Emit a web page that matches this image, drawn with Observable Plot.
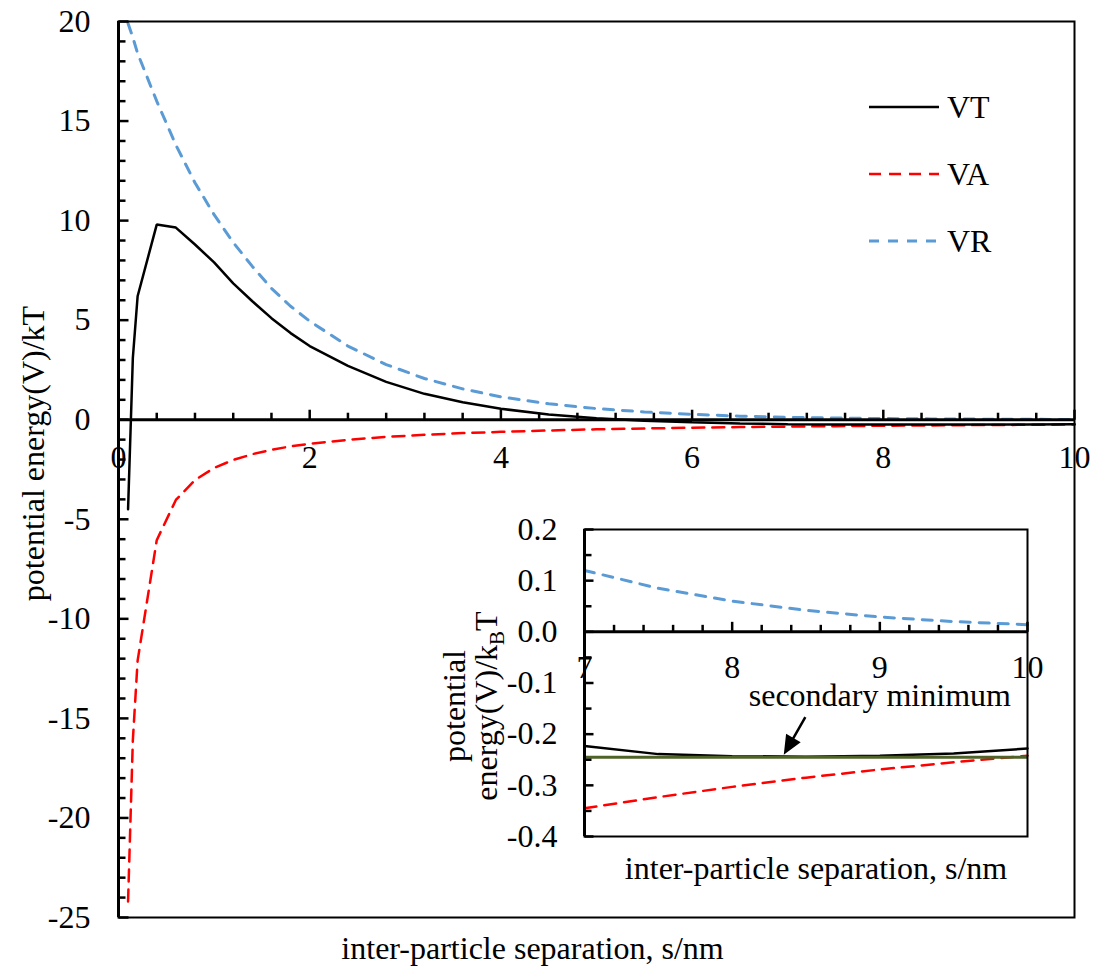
<!DOCTYPE html>
<html><head><meta charset="utf-8">
<script src="https://cdn.jsdelivr.net/npm/d3@7"></script>
<script src="https://cdn.jsdelivr.net/npm/@observablehq/plot@0.6"></script>
<style>
body{margin:0;background:#fff;}
#wrap{position:relative;width:1100px;height:969px;overflow:hidden;background:#fff;}
#wrap svg{position:absolute;}
#wrap text{font-family:"Liberation Serif","Times New Roman",serif;}
</style></head><body><div id="wrap"></div>
<script>
// ---------- data ----------
const separations = [0.1, 0.15, 0.2, 0.4, 0.6, 0.8, 1.0, 1.2, 1.4, 1.6, 1.8, 2.0, 2.4, 2.8, 3.2, 3.6, 4.0, 4.5, 5.0, 5.5, 6.0, 6.5, 7.0, 7.5, 8.0, 8.5, 9.0, 9.5, 10.0];
const vtValues = [-4.5, 3.1, 6.2, 9.8, 9.65, 8.8, 7.9, 6.85, 5.95, 5.1, 4.35, 3.7, 2.7, 1.9, 1.3, 0.88, 0.55, 0.26, 0.08, -0.05, -0.13, -0.19, -0.223, -0.239, -0.243, -0.244, -0.242, -0.238, -0.228];
const vaValues = [-24.2, -16.1, -12.1, -6.05, -4.03, -3.03, -2.42, -2.02, -1.73, -1.51, -1.34, -1.21, -1.01, -0.86, -0.76, -0.67, -0.61, -0.54, -0.48, -0.44, -0.40, -0.37, -0.345, -0.323, -0.303, -0.285, -0.269, -0.255, -0.242];
const vrValues = [19.9, 19.2, 18.4, 16.0, 13.8, 11.9, 10.3, 8.9, 7.7, 6.6, 5.7, 4.95, 3.7, 2.77, 2.07, 1.55, 1.15, 0.80, 0.56, 0.39, 0.27, 0.18, 0.120, 0.085, 0.060, 0.042, 0.029, 0.020, 0.014];
const seriesNames = ["VT", "VA", "VR"];

const xTickLabels = [0, 2, 4, 6, 8, 10];
const xMinorTicks = [0.4, 0.8, 1.2, 1.6, 2.4, 2.8, 3.2, 3.6, 4.4, 4.8, 5.2, 5.6, 6.4, 6.8, 7.2, 7.6, 8.4, 8.8, 9.2, 9.6];
const yTickLabels = [20, 15, 10, 5, 0, -5, -10, -15, -20, -25];
const yMinorTicks = d3.range(-25, 21, 1).filter(v => v % 5 !== 0);

const insetXTickLabels = [7, 8, 9, 10];
const insetXMinorTicks = [7.2, 7.4, 7.6, 7.8, 8.2, 8.4, 8.6, 8.8, 9.2, 9.4, 9.6, 9.8];
const insetYTickLabels = [0.2, 0.1, 0.0, -0.1, -0.2, -0.3, -0.4];
const insetYMinorTicks = [0.15, 0.05, -0.05, -0.15, -0.25, -0.35];
const secondaryMinimum = [-0.245];
const annotationText = [{label: "secondary minimum", s: 9.0, v: -0.124}];
const annotationArrowTip = [{s: 8.36, v: -0.235}];

const xTitle = "inter-particle separation, s/nm";
const yTitle = "potential energy(V)/kT";
const insetYTitle = "potential\nenergy(V)/kBT";

// ---------- styles ----------
const FONT = "Liberation Serif";
const FS = 32;
const BLUE = "#5B9BD5", RED = "#FF0000", GREEN = "#4F6228";
const colors = {VT: "black", VA: RED, VR: BLUE};
const dashes = {VT: null, VA: "12,8", VR: "10,9"};
const widths = {VT: 2.5, VA: 2.5, VR: 3};
const T = {fontSize: FS, fontFamily: FONT, fill: "black"};

const tick = (len, dir) => ({draw(ctx) { ctx.moveTo(0, 0); if (dir === "up") ctx.lineTo(0, -len); else ctx.lineTo(len, 0); }});
const arrowSymbol = {draw(ctx) {
  const tx = 20, ty = -35, L = Math.hypot(tx, ty);
  const ux = tx / L, uy = ty / L, nx = -uy, ny = ux;
  const h = 15, w = 6.5;
  const bx = ux * h, by = uy * h;
  ctx.moveTo(0, 0);
  ctx.lineTo(bx + nx * w, by + ny * w);
  ctx.lineTo(bx - nx * w, by - ny * w);
  ctx.closePath();
  ctx.moveTo(bx, by);
  ctx.lineTo(tx, ty);
}};

const rows = separations.map((s, i) => ({s, VT: vtValues[i], VA: vaValues[i], VR: vrValues[i]}));
const insetRows = rows.filter(d => d.s >= 7);

const lineMarks = (data) => ["VR", "VA", "VT"].map(k => Plot.line(data, {
  x: "s", y: k, stroke: colors[k], strokeWidth: widths[k],
  strokeDasharray: dashes[k] || undefined, strokeLinejoin: "miter"
}));

const wrap = document.getElementById("wrap");

// ---------- main chart ----------
const main = Plot.plot({
  width: 1100, height: 969,
  marginLeft: 118, marginRight: 26, marginTop: 21, marginBottom: 52,
  x: {domain: [0, 10], axis: null},
  y: {domain: [-25, 20], axis: null},
  style: {fontFamily: FONT, background: "white", overflow: "visible"},
  marks: [
    ...lineMarks(rows),
    Plot.frame({stroke: "black", strokeWidth: 2}),
    Plot.ruleY([0], {stroke: "black", strokeWidth: 3}),
    Plot.ruleX([0], {stroke: "black", strokeWidth: 3}),
    Plot.dot(xMinorTicks, {x: d => d, y: 0, symbol: tick(7, "up"), stroke: "black", fill: "none", strokeWidth: 2.5}),
    Plot.dot(xTickLabels, {x: d => d, y: 0, symbol: tick(10, "up"), stroke: "black", fill: "none", strokeWidth: 2.5}),
    Plot.dot(yMinorTicks, {x: 0, y: d => d, symbol: tick(7, "right"), stroke: "black", fill: "none", strokeWidth: 2.5}),
    Plot.dot(yTickLabels, {x: 0, y: d => d, symbol: tick(10, "right"), stroke: "black", fill: "none", strokeWidth: 2.5}),
    Plot.text(yTickLabels, {x: 0, y: d => d, text: d => String(d), textAnchor: "end", dx: -28, ...T}),
    Plot.text(xTickLabels, {x: d => d, y: 0, text: d => String(d), dy: 38, ...T}),
    Plot.text([yTitle], {text: d => d, frameAnchor: "left", textAnchor: "middle", lineAnchor: "middle", rotate: -90, dx: -85, dy: -16, ...T}),
    Plot.text([xTitle], {text: d => d, frameAnchor: "bottom", textAnchor: "middle", lineAnchor: "middle", dx: -64, dy: 31, ...T})
  ]
});
main.style.left = "0px"; main.style.top = "0px";
wrap.appendChild(main);

// ---------- legend ----------
const leg = d3.create("svg").attr("width", 220).attr("height", 200)
  .style("left", "860px").style("top", "80px");
seriesNames.forEach((k, i) => {
  const y = 27 + i * 67;
  leg.append("line").attr("x1", 9).attr("x2", 79).attr("y1", y).attr("y2", y)
    .attr("stroke", colors[k]).attr("stroke-width", widths[k])
    .attr("stroke-dasharray", dashes[k]);
  leg.append("text").attr("x", 87).attr("y", y).attr("dy", "0.34em")
    .attr("font-size", FS).attr("font-family", FONT).attr("fill", "black").text(k);
});
wrap.appendChild(leg.node());

// ---------- inset ----------
const inset = Plot.plot({
  width: 640, height: 400,
  marginLeft: 164, marginRight: 33, marginTop: 29, marginBottom: 64,
  x: {domain: [7, 10], axis: null},
  y: {domain: [-0.4, 0.2], axis: null},
  style: {fontFamily: FONT, background: "white", overflow: "visible"},
  marks: [
    ...lineMarks(insetRows),
    Plot.ruleY(secondaryMinimum, {stroke: GREEN, strokeWidth: 3}),
    Plot.frame({stroke: "black", strokeWidth: 2}),
    Plot.ruleY([0], {stroke: "black", strokeWidth: 3}),
    Plot.ruleX([7], {stroke: "black", strokeWidth: 3}),
    Plot.dot(insetXMinorTicks, {x: d => d, y: 0, symbol: tick(7, "up"), stroke: "black", fill: "none", strokeWidth: 2.5}),
    Plot.dot(insetXTickLabels, {x: d => d, y: 0, symbol: tick(10, "up"), stroke: "black", fill: "none", strokeWidth: 2.5}),
    Plot.dot(insetYMinorTicks, {x: 7, y: d => d, symbol: tick(7, "right"), stroke: "black", fill: "none", strokeWidth: 2.5}),
    Plot.dot(insetYTickLabels, {x: 7, y: d => d, symbol: tick(9, "right"), stroke: "black", fill: "none", strokeWidth: 2.5}),
    Plot.text(insetYTickLabels, {x: 7, y: d => d, text: d => d.toFixed(1), textAnchor: "end", dx: -27, ...T}),
    Plot.text(insetXTickLabels, {x: d => d, y: 0, text: d => String(d), dy: 36, ...T}),
    Plot.text(annotationText, {x: "s", y: "v", text: "label", ...T}),
    Plot.dot(annotationArrowTip, {x: "s", y: "v", symbol: arrowSymbol, fill: "black", stroke: "black", strokeWidth: 2.5}),
    Plot.text([insetYTitle], {text: d => d, frameAnchor: "left", textAnchor: "middle", lineAnchor: "middle", rotate: -90, dx: -114, dy: 23, ...T}),
    Plot.text([xTitle], {text: d => d, frameAnchor: "bottom", textAnchor: "middle", lineAnchor: "middle", dx: 10, dy: 32, ...T})
  ]
});
inset.style.left = "420px"; inset.style.top = "500px";
wrap.appendChild(inset);

// subscript B in the inset y title
inset.querySelectorAll("tspan").forEach(t => {
  if (t.textContent === "energy(V)/kBT") {
    t.textContent = "energy(V)/k";
    const ns = "http://www.w3.org/2000/svg";
    const b = document.createElementNS(ns, "tspan");
    b.setAttribute("dy", "7"); b.setAttribute("font-size", "21"); b.textContent = "B";
    const tt = document.createElementNS(ns, "tspan");
    tt.setAttribute("dy", "-7"); tt.textContent = "T";
    t.appendChild(b); t.appendChild(tt);
  }
});
</script>
</body></html>
